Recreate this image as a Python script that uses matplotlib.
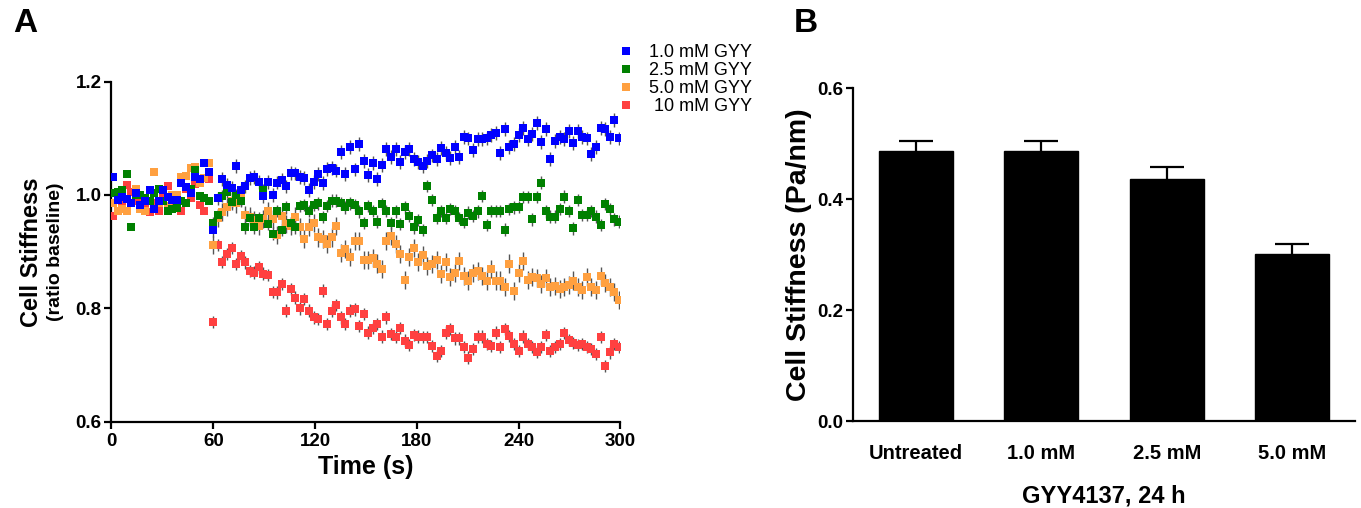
import numpy as np
import matplotlib
matplotlib.use('Agg')
import matplotlib.pyplot as plt
from matplotlib.lines import Line2D

plt.rcParams['font.family'] = ['Liberation Sans', 'DejaVu Sans']
plt.rcParams['font.weight'] = 'bold'

# ---- Panel A data: ratio to baseline, one sample every ~2.7 s ----
time_s = np.linspace(1, 299, 112)

gyy_1_0 = [1.031, 0.991, 0.997, 0.993, 0.986, 1.003, 0.982, 0.990, 1.008, 0.976,
           0.990, 1.008, 0.997, 0.992, 0.992, 1.021, 1.014, 1.004, 1.032, 1.029,
           1.056, 1.041, 0.938, 0.994, 1.028, 1.018, 1.012, 1.051, 1.008, 1.015,
           1.030, 1.032, 1.023, 0.998, 1.023, 1.000, 1.022, 1.026, 1.015, 1.039,
           1.038, 1.032, 1.030, 1.009, 1.023, 1.037, 1.021, 1.046, 1.048, 1.043,
           1.076, 1.037, 1.085, 1.045, 1.090, 1.060, 1.035, 1.056, 1.028, 1.053,
           1.081, 1.067, 1.081, 1.058, 1.076, 1.081, 1.063, 1.058, 1.051, 1.060,
           1.070, 1.063, 1.083, 1.074, 1.065, 1.085, 1.067, 1.102, 1.100, 1.079,
           1.099, 1.099, 1.100, 1.106, 1.109, 1.074, 1.116, 1.085, 1.090, 1.106,
           1.118, 1.099, 1.108, 1.127, 1.094, 1.116, 1.063, 1.095, 1.102, 1.099,
           1.113, 1.092, 1.113, 1.102, 1.100, 1.072, 1.085, 1.118, 1.116, 1.102,
           1.132, 1.100]

gyy_2_5 = [1.003, 1.006, 1.008, 1.037, 0.944, 1.000, 1.000, 0.995, 0.990, 1.003,
           1.011, 0.990, 0.972, 0.976, 0.977, 0.990, 0.985, 1.010, 1.044, 0.998,
           0.995, 0.990, 0.951, 0.965, 0.998, 1.006, 0.988, 1.000, 0.990, 0.943,
           0.960, 0.943, 0.959, 1.009, 0.949, 0.932, 0.972, 0.938, 0.978, 0.951,
           0.943, 0.981, 0.982, 0.972, 0.982, 0.985, 0.961, 0.981, 0.990, 0.990,
           0.985, 0.978, 0.985, 0.982, 0.971, 0.951, 0.981, 0.972, 0.953, 0.984,
           0.972, 0.951, 0.971, 0.949, 0.978, 0.963, 0.943, 0.956, 0.938, 1.016,
           0.991, 0.959, 0.972, 0.959, 0.975, 0.972, 0.959, 0.953, 0.969, 0.963,
           0.971, 0.998, 0.947, 0.972, 0.972, 0.972, 0.939, 0.975, 0.978, 0.979,
           0.996, 0.996, 0.957, 0.996, 1.022, 0.971, 0.962, 0.962, 0.975, 0.997,
           0.972, 0.941, 0.991, 0.965, 0.965, 0.972, 0.962, 0.947, 0.984, 0.975,
           0.957, 0.953]

gyy_5_0 = [0.985, 0.971, 0.976, 0.972, 0.985, 1.010, 0.976, 0.971, 0.990, 1.041,
           0.985, 0.990, 0.980, 1.000, 1.000, 1.032, 1.033, 1.047, 1.050, 1.021,
           1.030, 1.056, 0.912, 0.960, 0.970, 0.979, 0.990, 0.985, 0.996, 0.965,
           0.962, 0.955, 0.945, 0.957, 0.971, 0.957, 0.929, 0.963, 0.949, 0.945,
           0.962, 0.944, 0.922, 0.943, 0.950, 0.925, 0.922, 0.914, 0.925, 0.945,
           0.897, 0.904, 0.891, 0.919, 0.919, 0.886, 0.886, 0.888, 0.879, 0.869,
           0.919, 0.928, 0.914, 0.896, 0.850, 0.891, 0.906, 0.882, 0.894, 0.875,
           0.878, 0.886, 0.861, 0.881, 0.855, 0.863, 0.884, 0.857, 0.849, 0.863,
           0.866, 0.857, 0.849, 0.869, 0.849, 0.849, 0.838, 0.879, 0.831, 0.863,
           0.884, 0.850, 0.855, 0.853, 0.843, 0.853, 0.837, 0.839, 0.834, 0.837,
           0.841, 0.849, 0.837, 0.832, 0.855, 0.837, 0.832, 0.857, 0.845, 0.837,
           0.828, 0.815]

gyy_10 = [0.963, 1.000, 0.990, 1.018, 1.005, 0.990, 0.985, 0.975, 0.970, 0.985,
          0.971, 0.995, 1.016, 0.990, 1.000, 0.972, 1.010, 0.995, 1.020, 0.982,
          0.971, 1.029, 0.776, 0.912, 0.882, 0.896, 0.906, 0.878, 0.892, 0.881,
          0.866, 0.863, 0.872, 0.861, 0.859, 0.829, 0.828, 0.843, 0.796, 0.834,
          0.819, 0.800, 0.816, 0.796, 0.784, 0.781, 0.831, 0.772, 0.796, 0.806,
          0.784, 0.772, 0.796, 0.798, 0.769, 0.790, 0.757, 0.765, 0.772, 0.750,
          0.784, 0.755, 0.750, 0.765, 0.743, 0.735, 0.753, 0.750, 0.749, 0.749,
          0.733, 0.716, 0.725, 0.757, 0.763, 0.747, 0.747, 0.732, 0.713, 0.728,
          0.750, 0.750, 0.737, 0.733, 0.757, 0.732, 0.763, 0.751, 0.737, 0.725,
          0.750, 0.737, 0.732, 0.723, 0.732, 0.753, 0.725, 0.732, 0.737, 0.756,
          0.744, 0.739, 0.735, 0.737, 0.732, 0.728, 0.719, 0.749, 0.698, 0.722,
          0.737, 0.732]

# SEM before / after GYY addition at 60 s
sem_pre = [0.004, 0.004, 0.004, 0.004]
sem_post = [0.012, 0.011, 0.016, 0.011]

series_labels = ['1.0 mM GYY', '2.5 mM GYY', '5.0 mM GYY', ' 10 mM GYY']
series_colors = ['#0000FF', '#008000', '#FFA040', '#FF4040']

# ---- Panel B data ----
groups = ['Untreated', '1.0 mM', '2.5 mM', '5.0 mM']
stiffness = [0.487, 0.488, 0.437, 0.301]
stiffness_sem = [0.018, 0.018, 0.022, 0.019]

fig = plt.figure(figsize=(13.61, 5.08), dpi=100)

# ---------------- Panel A ----------------
axA = fig.add_axes([0.0819, 0.1701, 0.374, 0.6691])
all_series = [gyy_1_0, gyy_2_5, gyy_5_0, gyy_10]
# draw red first so blue ends up on top
for k in [3, 2, 1, 0]:
    err = np.where(time_s < 60, sem_pre[k], sem_post[k])
    axA.errorbar(time_s, all_series[k], yerr=err, fmt='s', color=series_colors[k],
                 ms=5.4, mew=0, ecolor='#555555', elinewidth=1.0, capsize=0, zorder=3)

axA.set_xlim(0, 300)
axA.set_ylim(0.6, 1.2)
axA.set_xticks([0, 60, 120, 180, 240, 300])
axA.set_yticks([0.6, 0.8, 1.0, 1.2])
axA.set_yticklabels(['0.6', '0.8', '1.0', '1.2'])
axA.set_xlabel('Time (s)', fontsize=18, fontweight='bold', labelpad=4)

fig.text(31 / 1361, 1 - 252 / 508, 'Cell Stiffness', rotation=90, ha='center', va='center',
         fontsize=17, fontweight='bold')
fig.text(55 / 1361, 1 - 252 / 508, '(ratio baseline)', rotation=90, ha='center', va='center',
         fontsize=14, fontweight='bold')

handles = [Line2D([], [], marker='s', color=c, linestyle='none', ms=5.5, mew=0) for c in series_colors]
axA.legend(handles, series_labels, loc='upper left', bbox_to_anchor=(0.453, 0.913),
           bbox_transform=fig.transFigure, frameon=False, borderpad=0, borderaxespad=0,
           labelspacing=0.05, handlelength=1.0, handletextpad=0.8,
           prop={'family': 'Liberation Sans', 'weight': 'normal', 'size': 13})

# ---------------- Panel B ----------------
axB = fig.add_axes([0.6267, 0.1703, 0.3689, 0.6555])
xpos = np.arange(len(groups))
axB.bar(xpos, stiffness, width=0.59, color='black', edgecolor='black', zorder=2)
eb = axB.errorbar(xpos, stiffness, yerr=[np.zeros(len(groups)), stiffness_sem], fmt='none',
                  ecolor='black', elinewidth=1.6, capsize=12.5, capthick=1.6, zorder=1)
eb[1][0].set_visible(False)  # no lower cap
axB.set_xlim(-0.5, 3.5)
axB.set_ylim(0, 0.6)
axB.set_yticks([0.0, 0.2, 0.4, 0.6])
axB.set_yticklabels(['0.0', '0.2', '0.4', '0.6'])
axB.set_xticks(xpos)
axB.set_xticklabels(groups)
axB.set_ylabel('Cell Stiffness (Pa/nm)', fontsize=20.5, fontweight='bold', labelpad=4)
axB.set_xlabel('GYY4137, 24 h', fontsize=17, fontweight='bold', labelpad=16)

for ax in (axA, axB):
    ax.spines['top'].set_visible(False)
    ax.spines['right'].set_visible(False)
    ax.spines['left'].set_linewidth(1.6)
    ax.spines['bottom'].set_linewidth(1.6)
    ax.tick_params(which='both', direction='out', width=1.6, labelsize=13.5, pad=2)
    ax.tick_params(axis='y', length=5)
    for lab in ax.get_yticklabels() + ax.get_xticklabels():
        lab.set_fontweight('bold')
axA.tick_params(axis='x', length=5, pad=3)
axB.tick_params(axis='x', length=0, pad=16, labelsize=14.5)

fig.text(0.010, 0.985, 'A', fontsize=24, fontweight='bold', va='top', ha='left')
fig.text(0.583, 0.985, 'B', fontsize=24, fontweight='bold', va='top', ha='left')

fig.savefig('out.png', dpi=100)
